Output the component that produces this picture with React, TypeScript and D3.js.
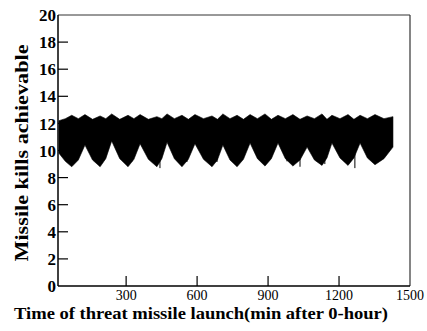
import React from 'react';
import * as d3 from 'd3';

// sample times (min after 0-hour) along the band
const times = [16, 43, 70, 98, 126, 158, 190, 214, 239, 273, 308, 333, 359, 394, 430, 451, 473, 504, 536, 563, 591, 627, 663, 686, 709, 739, 769, 796, 824, 855, 887, 914, 942, 973, 1005, 1035, 1065, 1096, 1128, 1149, 1170, 1204, 1238, 1263, 1289, 1320, 1352, 1390, 1428];
// lower envelope of the kill band
const lowValues = [9.8, 9.2, 8.8, 9.3, 10.4, 9.3, 8.8, 9.4, 10.7, 9.4, 8.8, 9.35, 10.5, 9.35, 8.8, 9.4, 10.6, 9.4, 8.8, 9.35, 10.5, 9.35, 8.8, 9.3, 10.4, 9.3, 8.8, 9.35, 10.55, 9.4, 8.85, 9.4, 10.55, 9.4, 8.85, 9.3, 10.25, 9.3, 8.9, 9.45, 10.55, 9.45, 8.9, 9.45, 10.55, 9.45, 8.95, 9.4, 10.25];
// upper envelope of the kill band
const highValues = [12.2, 12.35, 12.6, 12.35, 12.65, 12.3, 12.55, 12.35, 12.7, 12.3, 12.6, 12.35, 12.65, 12.3, 12.5, 12.35, 12.7, 12.35, 12.6, 12.3, 12.65, 12.35, 12.55, 12.3, 12.7, 12.35, 12.6, 12.3, 12.65, 12.35, 12.7, 12.3, 12.6, 12.35, 12.65, 12.3, 12.55, 12.35, 12.7, 12.3, 12.6, 12.35, 12.65, 12.3, 12.6, 12.35, 12.65, 12.35, 12.5];
// isolated downward spikes
const spikeTimes = [278, 325, 443, 557, 684, 980, 1035, 1140, 1267];
const spikeValues = [9.45, 9.2, 8.7, 9.15, 9.15, 9.2, 8.8, 9.0, 8.7];

const xTicks = [300, 600, 900, 1200, 1500];
const yTicks = [0, 2, 4, 6, 8, 10, 12, 14, 16, 18, 20];

const W = 427;
const H = 331;
const margin = { top: 15, right: 17, bottom: 45, left: 58 };

export default function App() {
  const x = d3.scaleLinear().domain([12, 1500]).range([margin.left, W - margin.right]);
  const y = d3.scaleLinear().domain([0, 20]).range([H - margin.bottom, margin.top]);

  const band = d3.area<number>()
    .x((d, i) => x(times[i]))
    .y0((d, i) => y(lowValues[i]))
    .y1((d, i) => y(highValues[i]));

  const x0 = x.range()[0];
  const x1 = x.range()[1];
  const y0 = y.range()[0];
  const y1 = y.range()[1];
  const serif = "'Times New Roman', Times, 'Liberation Serif', serif";

  return (
    <svg width={W} height={H} style={{ position: 'absolute', left: 0, top: 0, background: '#fff' }}>
      <path d={band(times) || ''} fill="#000" stroke="#000" strokeWidth={0.6} />
      {spikeTimes.map((t, i) => (
        <line key={'s' + i} x1={x(t)} x2={x(t)} y1={y(10)} y2={y(spikeValues[i])} stroke="#000" strokeWidth={1} />
      ))}

      {/* frame */}
      <line x1={x0} x2={x1} y1={y1} y2={y1} stroke="#333" strokeWidth={1} />
      <line x1={x1} x2={x1} y1={y1} y2={y0} stroke="#333" strokeWidth={1.2} />
      <line x1={x0} x2={x0} y1={y1} y2={y0} stroke="#000" strokeWidth={1.5} />
      <line x1={x0} x2={x1} y1={y0} y2={y0} stroke="#000" strokeWidth={1.5} />

      {yTicks.map(t => (
        <g key={'y' + t}>
          {t > 0 && t < 20 && <line x1={x0} x2={x0 + 10} y1={y(t)} y2={y(t)} stroke="#000" strokeWidth={1.2} />}
          <text x={x0 - 2} y={y(t)} dy="0.36em" textAnchor="end" fontFamily={serif} fontWeight="bold" fontSize={17}>{t}</text>
        </g>
      ))}

      {xTicks.map(t => (
        <g key={'x' + t}>
          {t < 1500 && <line x1={x(t)} x2={x(t)} y1={y0} y2={y0 - 10} stroke="#000" strokeWidth={1.2} />}
          <text x={x(t)} y={300} textAnchor="middle" fontFamily={serif} fontSize={14}>{t}</text>
        </g>
      ))}

      <text x={201} y={319} textAnchor="middle" fontFamily={serif} fontWeight="bold" fontSize={16}
        textLength={374} lengthAdjust="spacingAndGlyphs">Time of threat missile launch(min after 0-hour)</text>
      <text transform="translate(28,153) rotate(-90)" textAnchor="middle" fontFamily={serif} fontWeight="bold" fontSize={19}
        textLength={217} lengthAdjust="spacingAndGlyphs">Missile kills achievable</text>
    </svg>
  );
}
